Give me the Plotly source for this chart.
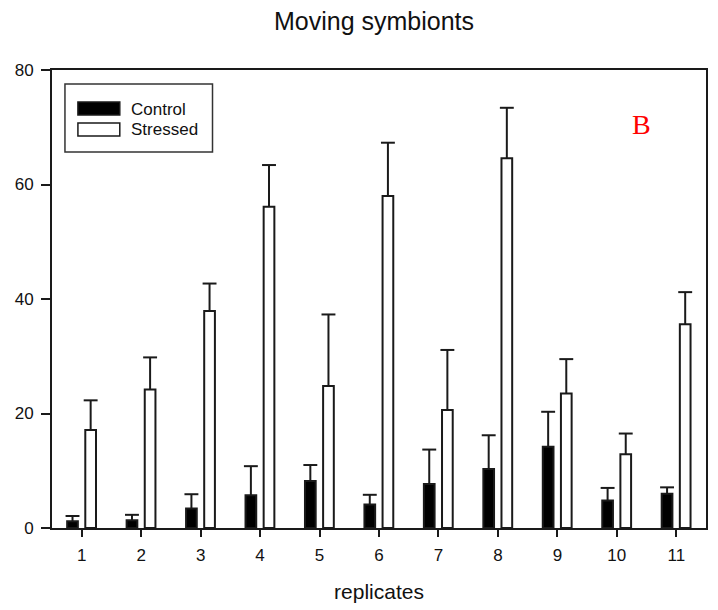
import plotly.graph_objects as go

replicates = [1, 2, 3, 4, 5, 6, 7, 8, 9, 10, 11]
control = [1.2, 1.35, 3.4, 5.7, 8.2, 4.1, 7.7, 10.3, 14.2, 4.8, 6.0]
control_err = [0.9, 0.95, 2.5, 5.1, 2.8, 1.7, 6.0, 5.9, 6.1, 2.2, 1.1]
stressed = [17.1, 24.2, 37.9, 56.1, 24.8, 58.0, 20.6, 64.6, 23.5, 12.9, 35.6]
stressed_err = [5.2, 5.6, 4.8, 7.3, 12.5, 9.3, 10.5, 8.8, 6.0, 3.6, 5.6]
y_ticks = [0, 20, 40, 60, 80]

W, H = 718, 610
ML, MR, MT, MB = 52, 10, 70, 82
PW, PH = W - ML - MR, H - MT - MB

BAR_W = 0.18
OFF_C = -0.245
OFF_S = 0.06
CAP = 0.117
LINE = "#1a1a1a"
FONT = "Liberation Sans, Arial, sans-serif"


def px(x, y):
    return (x - ML) / PW, (H - MB - y) / PH


def err_path(xs, vals, errs, off):
    ex, ey = [], []
    for x, v, e in zip(xs, vals, errs):
        xc = x + off + BAR_W / 2
        ex += [xc, xc, None, xc - CAP, xc + CAP, None]
        ey += [v, v + e, None, v + e, v + e, None]
    return ex, ey


fig = go.Figure()
fig.add_trace(go.Bar(x=replicates, y=control, width=BAR_W, offset=OFF_C, name="Control",
                     marker=dict(color="black", line=dict(color=LINE, width=2))))
fig.add_trace(go.Bar(x=replicates, y=stressed, width=BAR_W, offset=OFF_S, name="Stressed",
                     marker=dict(color="white", line=dict(color=LINE, width=2))))
for vals, errs, off in [(control, control_err, OFF_C), (stressed, stressed_err, OFF_S)]:
    ex, ey = err_path(replicates, vals, errs, off)
    fig.add_trace(go.Scatter(x=ex, y=ey, mode="lines", line=dict(color=LINE, width=2),
                             showlegend=False, hoverinfo="skip"))

# legend drawn manually
shapes = []
x0, y0 = px(65, 152)
x1, y1 = px(213, 84)
shapes.append(dict(type="rect", xref="paper", yref="paper", x0=x0, y0=y0, x1=x1, y1=y1,
                   line=dict(color="#333", width=1.5), fillcolor="white"))
for (top, bot, fill) in [(102, 115, "black"), (123, 136, "white")]:
    a0, b0 = px(78, bot)
    a1, b1 = px(120, top)
    shapes.append(dict(type="rect", xref="paper", yref="paper", x0=a0, y0=b0, x1=a1, y1=b1,
                       line=dict(color=LINE, width=1.5), fillcolor=fill))

annotations = []
for label, yc in [("Control", 109), ("Stressed", 129)]:
    ax, ay = px(129, yc)
    annotations.append(dict(text=label, xref="paper", yref="paper", x=ax, y=ay,
                            xanchor="left", yanchor="middle", showarrow=False,
                            font=dict(family=FONT, size=17, color="#111")))
bx, by = px(643, 124)
annotations.append(dict(text="B", xref="paper", yref="paper", x=bx, y=by,
                        xanchor="center", yanchor="middle", showarrow=False,
                        font=dict(family="Liberation Serif, Times New Roman, serif", size=28, color="red")))

fig.update_layout(
    width=W, height=H,
    margin=dict(l=ML, r=MR, t=MT, b=MB, pad=0),
    paper_bgcolor="white", plot_bgcolor="white",
    showlegend=False,
    title=dict(text="Moving symbionts", x=374 / W, xanchor="center", y=1 - 21 / H, yanchor="middle",
               font=dict(family=FONT, size=25, color="#111")),
    shapes=shapes, annotations=annotations,
    xaxis=dict(range=[0.5, 11.5], tickvals=replicates, ticktext=[str(r) for r in replicates],
               showline=True, mirror=True, linecolor=LINE, linewidth=2,
               ticks="outside", ticklen=7, tickwidth=2, tickcolor=LINE,
               ticklabelstandoff=4,
               showgrid=False, zeroline=False,
               tickfont=dict(family=FONT, size=17, color="#111"),
               title=dict(text="replicates", font=dict(family=FONT, size=21, color="#111"), standoff=20)),
    yaxis=dict(range=[0, 80], tickvals=y_ticks,
               showline=True, mirror=True, linecolor=LINE, linewidth=2,
               ticks="outside", ticklen=9, tickwidth=2, tickcolor=LINE,
               ticklabelstandoff=4,
               showgrid=False, zeroline=False,
               tickfont=dict(family=FONT, size=17, color="#111")),
)

fig.write_html("out.html")
